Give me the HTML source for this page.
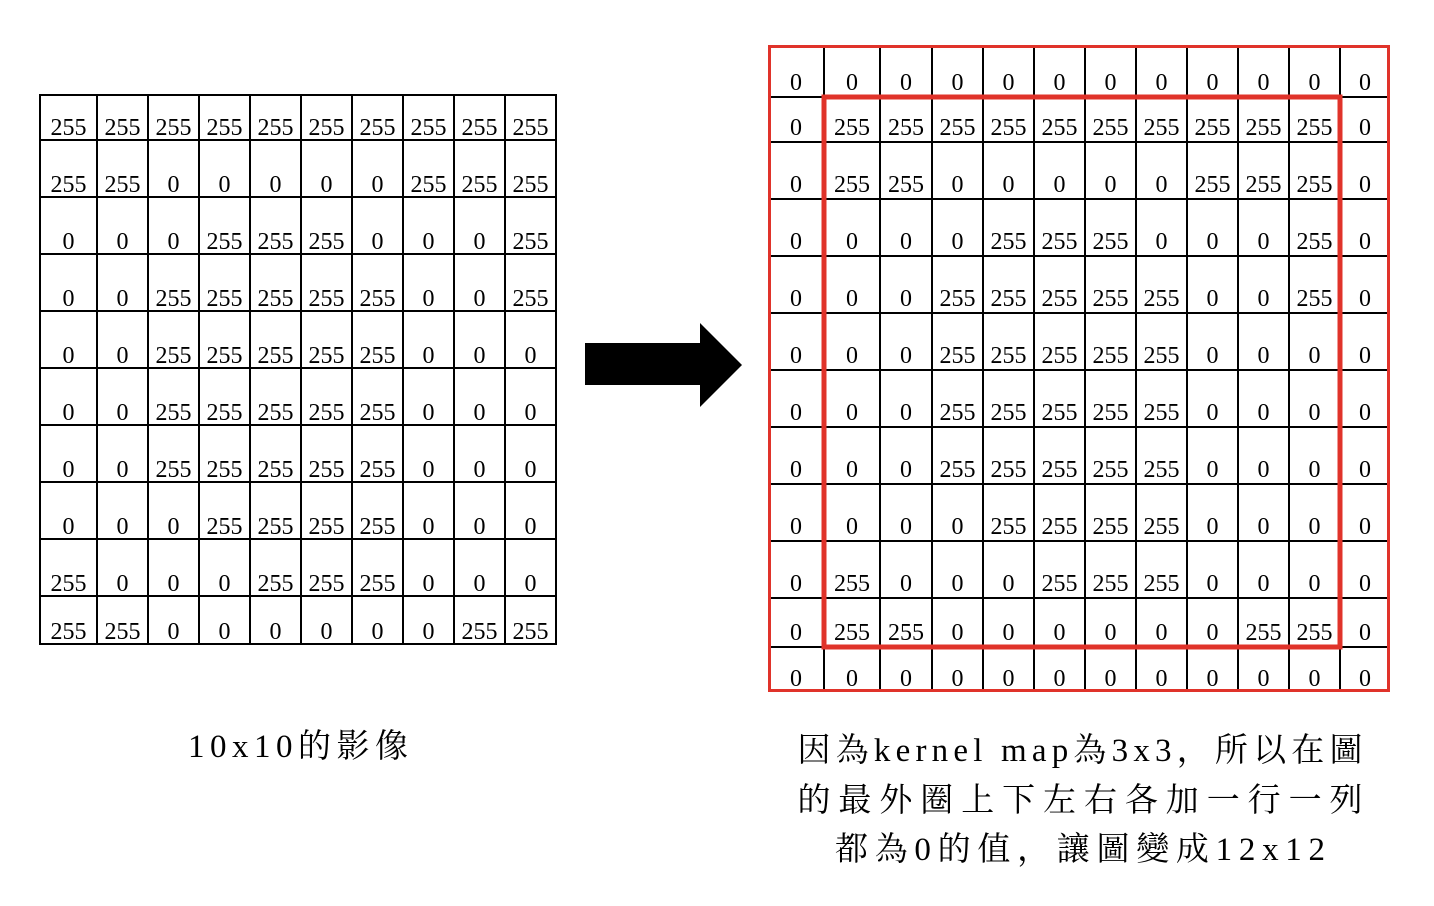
<!DOCTYPE html>
<html><head><meta charset="utf-8"><style>
html,body{margin:0;padding:0;background:#fff;}
svg{display:block}
text{font-family:"Liberation Serif","Noto Serif CJK SC",serif;font-size:24px;fill:#000;text-anchor:middle}
.cap{font-size:33px}
</style></head><body>
<svg width="1434" height="906" viewBox="0 0 1434 906">
<g stroke="#000" stroke-width="2">
<rect x="40" y="95" width="516" height="549" fill="none"/>
<path d="M97 95V644M148 95V644M199 95V644M250 95V644M301 95V644M352 95V644M403 95V644M454 95V644M505 95V644M40 140H556M40 197H556M40 254H556M40 311H556M40 368H556M40 425H556M40 482H556M40 539H556M40 596H556"/>
<path d="M824 45V692M880 45V692M932 45V692M983 45V692M1034 45V692M1085 45V692M1136 45V692M1187 45V692M1238 45V692M1289 45V692M1340 45V692M768 97H1390M768 142H1390M768 199H1390M768 256H1390M768 313H1390M768 370H1390M768 427H1390M768 484H1390M768 541H1390M768 598H1390M768 647H1390"/>
</g>
<rect x="769.5" y="46.5" width="619" height="644" fill="none" stroke="#e0332a" stroke-width="3"/>
<rect x="824" y="97" width="516" height="550" fill="none" stroke="#e0332a" stroke-width="5"/>
<polygon points="585,343 700,343 700,323 742,365 700,407 700,385 585,385" fill="#000"/>
<g>
<text x="68.5" y="135">255</text><text x="122.5" y="135">255</text><text x="173.5" y="135">255</text><text x="224.5" y="135">255</text><text x="275.5" y="135">255</text><text x="326.5" y="135">255</text><text x="377.5" y="135">255</text><text x="428.5" y="135">255</text><text x="479.5" y="135">255</text><text x="530.5" y="135">255</text>
<text x="68.5" y="192">255</text><text x="122.5" y="192">255</text><text x="173.5" y="192">0</text><text x="224.5" y="192">0</text><text x="275.5" y="192">0</text><text x="326.5" y="192">0</text><text x="377.5" y="192">0</text><text x="428.5" y="192">255</text><text x="479.5" y="192">255</text><text x="530.5" y="192">255</text>
<text x="68.5" y="249">0</text><text x="122.5" y="249">0</text><text x="173.5" y="249">0</text><text x="224.5" y="249">255</text><text x="275.5" y="249">255</text><text x="326.5" y="249">255</text><text x="377.5" y="249">0</text><text x="428.5" y="249">0</text><text x="479.5" y="249">0</text><text x="530.5" y="249">255</text>
<text x="68.5" y="306">0</text><text x="122.5" y="306">0</text><text x="173.5" y="306">255</text><text x="224.5" y="306">255</text><text x="275.5" y="306">255</text><text x="326.5" y="306">255</text><text x="377.5" y="306">255</text><text x="428.5" y="306">0</text><text x="479.5" y="306">0</text><text x="530.5" y="306">255</text>
<text x="68.5" y="363">0</text><text x="122.5" y="363">0</text><text x="173.5" y="363">255</text><text x="224.5" y="363">255</text><text x="275.5" y="363">255</text><text x="326.5" y="363">255</text><text x="377.5" y="363">255</text><text x="428.5" y="363">0</text><text x="479.5" y="363">0</text><text x="530.5" y="363">0</text>
<text x="68.5" y="420">0</text><text x="122.5" y="420">0</text><text x="173.5" y="420">255</text><text x="224.5" y="420">255</text><text x="275.5" y="420">255</text><text x="326.5" y="420">255</text><text x="377.5" y="420">255</text><text x="428.5" y="420">0</text><text x="479.5" y="420">0</text><text x="530.5" y="420">0</text>
<text x="68.5" y="477">0</text><text x="122.5" y="477">0</text><text x="173.5" y="477">255</text><text x="224.5" y="477">255</text><text x="275.5" y="477">255</text><text x="326.5" y="477">255</text><text x="377.5" y="477">255</text><text x="428.5" y="477">0</text><text x="479.5" y="477">0</text><text x="530.5" y="477">0</text>
<text x="68.5" y="534">0</text><text x="122.5" y="534">0</text><text x="173.5" y="534">0</text><text x="224.5" y="534">255</text><text x="275.5" y="534">255</text><text x="326.5" y="534">255</text><text x="377.5" y="534">255</text><text x="428.5" y="534">0</text><text x="479.5" y="534">0</text><text x="530.5" y="534">0</text>
<text x="68.5" y="591">255</text><text x="122.5" y="591">0</text><text x="173.5" y="591">0</text><text x="224.5" y="591">0</text><text x="275.5" y="591">255</text><text x="326.5" y="591">255</text><text x="377.5" y="591">255</text><text x="428.5" y="591">0</text><text x="479.5" y="591">0</text><text x="530.5" y="591">0</text>
<text x="68.5" y="639">255</text><text x="122.5" y="639">255</text><text x="173.5" y="639">0</text><text x="224.5" y="639">0</text><text x="275.5" y="639">0</text><text x="326.5" y="639">0</text><text x="377.5" y="639">0</text><text x="428.5" y="639">0</text><text x="479.5" y="639">255</text><text x="530.5" y="639">255</text>
</g>
<g>
<text x="796" y="90">0</text><text x="852" y="90">0</text><text x="906" y="90">0</text><text x="957.5" y="90">0</text><text x="1008.5" y="90">0</text><text x="1059.5" y="90">0</text><text x="1110.5" y="90">0</text><text x="1161.5" y="90">0</text><text x="1212.5" y="90">0</text><text x="1263.5" y="90">0</text><text x="1314.5" y="90">0</text><text x="1365" y="90">0</text>
<text x="796" y="135">0</text><text x="852" y="135">255</text><text x="906" y="135">255</text><text x="957.5" y="135">255</text><text x="1008.5" y="135">255</text><text x="1059.5" y="135">255</text><text x="1110.5" y="135">255</text><text x="1161.5" y="135">255</text><text x="1212.5" y="135">255</text><text x="1263.5" y="135">255</text><text x="1314.5" y="135">255</text><text x="1365" y="135">0</text>
<text x="796" y="192">0</text><text x="852" y="192">255</text><text x="906" y="192">255</text><text x="957.5" y="192">0</text><text x="1008.5" y="192">0</text><text x="1059.5" y="192">0</text><text x="1110.5" y="192">0</text><text x="1161.5" y="192">0</text><text x="1212.5" y="192">255</text><text x="1263.5" y="192">255</text><text x="1314.5" y="192">255</text><text x="1365" y="192">0</text>
<text x="796" y="249">0</text><text x="852" y="249">0</text><text x="906" y="249">0</text><text x="957.5" y="249">0</text><text x="1008.5" y="249">255</text><text x="1059.5" y="249">255</text><text x="1110.5" y="249">255</text><text x="1161.5" y="249">0</text><text x="1212.5" y="249">0</text><text x="1263.5" y="249">0</text><text x="1314.5" y="249">255</text><text x="1365" y="249">0</text>
<text x="796" y="306">0</text><text x="852" y="306">0</text><text x="906" y="306">0</text><text x="957.5" y="306">255</text><text x="1008.5" y="306">255</text><text x="1059.5" y="306">255</text><text x="1110.5" y="306">255</text><text x="1161.5" y="306">255</text><text x="1212.5" y="306">0</text><text x="1263.5" y="306">0</text><text x="1314.5" y="306">255</text><text x="1365" y="306">0</text>
<text x="796" y="363">0</text><text x="852" y="363">0</text><text x="906" y="363">0</text><text x="957.5" y="363">255</text><text x="1008.5" y="363">255</text><text x="1059.5" y="363">255</text><text x="1110.5" y="363">255</text><text x="1161.5" y="363">255</text><text x="1212.5" y="363">0</text><text x="1263.5" y="363">0</text><text x="1314.5" y="363">0</text><text x="1365" y="363">0</text>
<text x="796" y="420">0</text><text x="852" y="420">0</text><text x="906" y="420">0</text><text x="957.5" y="420">255</text><text x="1008.5" y="420">255</text><text x="1059.5" y="420">255</text><text x="1110.5" y="420">255</text><text x="1161.5" y="420">255</text><text x="1212.5" y="420">0</text><text x="1263.5" y="420">0</text><text x="1314.5" y="420">0</text><text x="1365" y="420">0</text>
<text x="796" y="477">0</text><text x="852" y="477">0</text><text x="906" y="477">0</text><text x="957.5" y="477">255</text><text x="1008.5" y="477">255</text><text x="1059.5" y="477">255</text><text x="1110.5" y="477">255</text><text x="1161.5" y="477">255</text><text x="1212.5" y="477">0</text><text x="1263.5" y="477">0</text><text x="1314.5" y="477">0</text><text x="1365" y="477">0</text>
<text x="796" y="534">0</text><text x="852" y="534">0</text><text x="906" y="534">0</text><text x="957.5" y="534">0</text><text x="1008.5" y="534">255</text><text x="1059.5" y="534">255</text><text x="1110.5" y="534">255</text><text x="1161.5" y="534">255</text><text x="1212.5" y="534">0</text><text x="1263.5" y="534">0</text><text x="1314.5" y="534">0</text><text x="1365" y="534">0</text>
<text x="796" y="591">0</text><text x="852" y="591">255</text><text x="906" y="591">0</text><text x="957.5" y="591">0</text><text x="1008.5" y="591">0</text><text x="1059.5" y="591">255</text><text x="1110.5" y="591">255</text><text x="1161.5" y="591">255</text><text x="1212.5" y="591">0</text><text x="1263.5" y="591">0</text><text x="1314.5" y="591">0</text><text x="1365" y="591">0</text>
<text x="796" y="640">0</text><text x="852" y="640">255</text><text x="906" y="640">255</text><text x="957.5" y="640">0</text><text x="1008.5" y="640">0</text><text x="1059.5" y="640">0</text><text x="1110.5" y="640">0</text><text x="1161.5" y="640">0</text><text x="1212.5" y="640">0</text><text x="1263.5" y="640">255</text><text x="1314.5" y="640">255</text><text x="1365" y="640">0</text>
<text x="796" y="686">0</text><text x="852" y="686">0</text><text x="906" y="686">0</text><text x="957.5" y="686">0</text><text x="1008.5" y="686">0</text><text x="1059.5" y="686">0</text><text x="1110.5" y="686">0</text><text x="1161.5" y="686">0</text><text x="1212.5" y="686">0</text><text x="1263.5" y="686">0</text><text x="1314.5" y="686">0</text><text x="1365" y="686">0</text>
</g>
<text class="cap" x="298" y="757" textLength="220" lengthAdjust="spacing">10x10的影像</text>
<text class="cap" x="1080" y="761" textLength="565" lengthAdjust="spacing">因為kernel map為3x3，所以在圖</text>
<text class="cap" x="1080" y="811" textLength="565" lengthAdjust="spacing">的最外圈上下左右各加一行一列</text>
<text class="cap" x="1080" y="860" textLength="490" lengthAdjust="spacing">都為0的值，讓圖變成12x12</text>
</svg>
</body></html>
